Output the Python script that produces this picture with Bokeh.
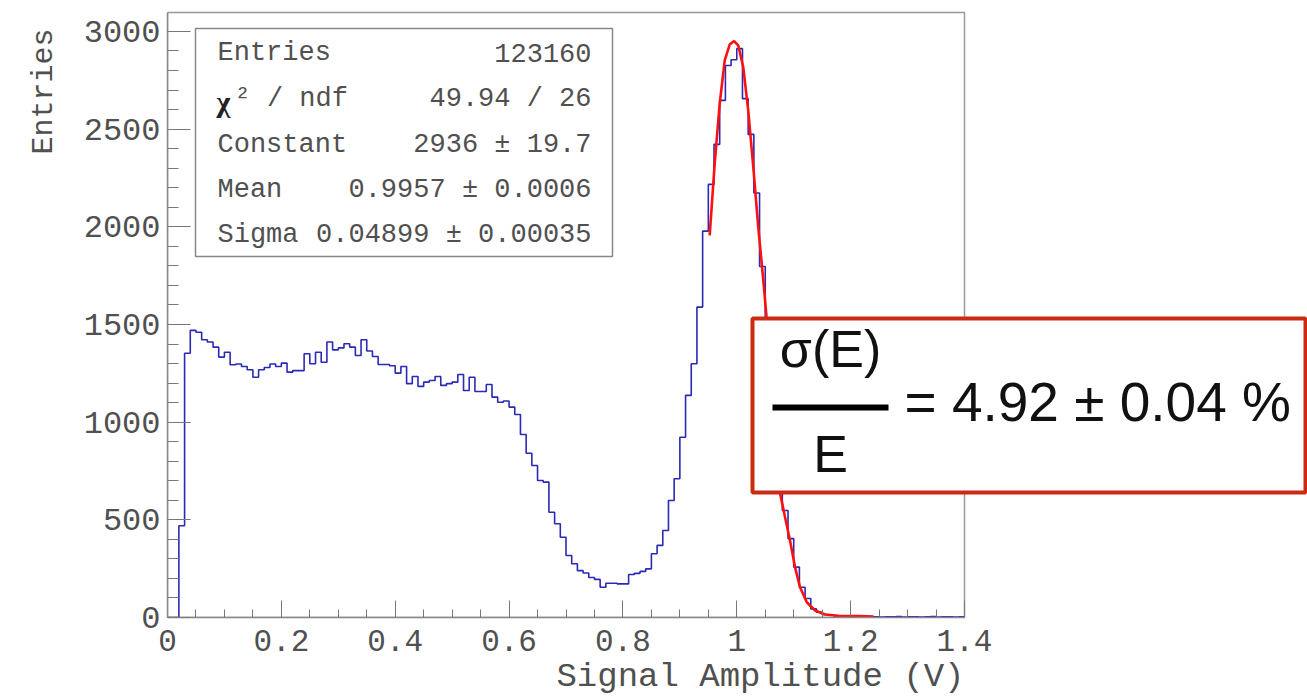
import numpy as np
from bokeh.plotting import figure
from bokeh.models import Range1d, FixedTicker, BoxAnnotation, Label, Title, PrintfTickFormatter
from bokeh.embed import file_html
from bokeh.resources import INLINE

# ---------------- data ----------------
bin_edges = [round(0.01 * i, 2) for i in range(141)]
counts = [
    0, 0, 470, 1353, 1470, 1460, 1422, 1410, 1384, 1333,
    1358, 1294, 1298, 1285, 1268, 1230, 1268, 1280, 1298, 1285,
    1302, 1256, 1264, 1264, 1350, 1299, 1358, 1307, 1410, 1370,
    1380, 1401, 1384, 1341, 1422, 1364, 1336, 1295, 1295, 1289,
    1251, 1285, 1197, 1234, 1183, 1205, 1213, 1234, 1188, 1197,
    1205, 1244, 1162, 1230, 1157, 1157, 1193, 1128, 1102, 1108,
    1077, 1039, 937, 841, 778, 701, 693, 539, 480, 411,
    317, 275, 240, 228, 205, 195, 155, 175, 175, 172,
    172, 220, 226, 236, 249, 326, 369, 445, 599, 710,
    923, 1137, 1299, 1589, 1978, 2217, 2422, 2647, 2826, 2855,
    2912, 2656, 2473, 2173, 1797, 1410, 1090, 770, 548, 404,
    258, 155, 97, 44, 27, 15, 12, 8, 6, 5,
    4, 6, 3, 5, 4, 2, 4, 3, 5, 2,
    3, 4, 2, 3, 5, 2, 3, 4, 2, 3,
]
fit_x = [0.9524, 0.9612, 0.9700, 0.9788, 0.9877, 0.9954, 1.0025, 1.0113, 1.0201,
         1.0290, 1.0377, 1.0466, 1.0524, 1.0600, 1.0680, 1.0758, 1.0847, 1.0935,
         1.1023, 1.1111, 1.1230, 1.1376, 1.1552, 1.1788, 1.2140, 1.2400]
fit_y = [1956, 2323, 2630, 2852, 2934, 2951, 2929, 2818, 2596,
         2306, 1998, 1726, 1532, 1240, 930, 640, 514, 394,
         258, 155, 78, 36, 15, 9, 7, 5]

x_ticks = [0, 0.2, 0.4, 0.6, 0.8, 1, 1.2, 1.4]
x_minor = [round(0.05 * i, 2) for i in range(29)]
y_ticks = [0, 500, 1000, 1500, 2000, 2500, 3000]
y_minor = list(range(0, 3100, 100))

stat_names = ["Entries", "\u00b2 / ndf", "Constant", "Mean", "Sigma"]
stat_values = ["123160", "49.94 / 26", "2936 \u00b1 19.7", "0.9957 \u00b1 0.0006",
               "0.04899 \u00b1 0.00035"]

# ---------------- layout constants ----------------
MONO = "Liberation Mono"
SANS = "Liberation Sans"
TXT = "#505050"
X_MIN, X_MAX = 0.0, 1.4
Y_MIN, Y_MAX = 0.0, 3097.0
FRAME_L, FRAME_R, FRAME_T, FRAME_B = 167, 964, 12, 617  # visible ROOT frame (canvas px)
W, H = 1307, 699
CANVAS_TOP = 10
px_per_x = (FRAME_R - FRAME_L) / (X_MAX - X_MIN)
px_per_y = (FRAME_B - FRAME_T) / (Y_MAX - Y_MIN)
x_end = X_MIN + (W - FRAME_L) / px_per_x          # data frame extends to canvas edge
y_end = Y_MAX + (FRAME_T - CANVAS_TOP) / px_per_y
BASE_FIX = 19  # label baseline correction (px)

def sx(cx):  # canvas x -> screen units relative to frame left
    return cx - FRAME_L

def sy(cy):  # canvas y -> screen units relative to frame bottom
    return FRAME_B - cy

p = figure(width=W, height=H, output_backend="svg", toolbar_location=None,
           x_range=Range1d(X_MIN, x_end), y_range=Range1d(Y_MIN, y_end),
           min_border_left=FRAME_L, min_border_right=0, min_border_top=CANVAS_TOP,
           min_border_bottom=H - FRAME_B)
p.xgrid.visible = False
p.ygrid.visible = False
p.outline_line_color = None
p.background_fill_color = "white"
p.border_fill_color = "white"

# ROOT frame
p.add_layout(BoxAnnotation(left=sx(FRAME_L), right=sx(FRAME_R), top=sy(FRAME_T), bottom=0,
                           left_units="screen", right_units="screen",
                           top_units="screen", bottom_units="screen",
                           fill_alpha=0.0, line_color="#999999", line_alpha=1.0,
                           line_width=1.5, level="underlay"))

# histogram
p.step(x=bin_edges, y=counts + [counts[-1]], mode="after", line_color="#2a2ab4",
       line_width=1.6)
# fit
p.line(fit_x, fit_y, line_color="#ff1010", line_width=2.6)

# axes
for ax in (p.xaxis[0], p.yaxis[0]):
    ax.axis_line_color = "#888888"
    ax.axis_line_width = 1.5
    ax.major_tick_line_color = "#777777"
    ax.minor_tick_line_color = "#777777"
    ax.major_tick_out = 0
    ax.minor_tick_out = 0
    ax.major_label_text_font = MONO
    ax.major_label_text_color = TXT

p.xaxis.bounds = (X_MIN, X_MAX)
p.xaxis.ticker = FixedTicker(ticks=x_ticks, minor_ticks=x_minor)
p.xaxis.formatter = PrintfTickFormatter(format="%g")
p.xaxis.major_tick_in = 17
p.xaxis.minor_tick_in = 8
p.xaxis.major_label_text_font_size = "31px"
p.xaxis.major_label_standoff = 12

p.yaxis.bounds = (Y_MIN, Y_MAX)
p.yaxis.ticker = FixedTicker(ticks=y_ticks, minor_ticks=y_minor)
p.yaxis.major_tick_in = 23
p.yaxis.minor_tick_in = 11
p.yaxis.major_label_text_font_size = "32px"
p.yaxis.major_label_standoff = 7

# axis titles
ytitle = Title(text="Entries", align="right", text_font=MONO, text_font_size="30px",
               text_font_style="normal", text_color=TXT, standoff=40, offset=18)
p.add_layout(ytitle, "left")
xtitle = Title(text="Signal Amplitude (V)", align="right", text_font=MONO,
               text_font_size="34px", text_font_style="normal", text_color=TXT,
               standoff=4, offset=W - FRAME_R)
p.add_layout(xtitle, "below")

# stats box
p.add_layout(BoxAnnotation(left=sx(195), right=sx(612), top=sy(28), bottom=sy(256),
                           left_units="screen", right_units="screen",
                           top_units="screen", bottom_units="screen",
                           fill_color="white", fill_alpha=1.0,
                           line_color="#888888", line_alpha=1.0, line_width=1.5))
row_cy = [52, 98.5, 144, 189, 234]
name_x = [217, 234, 217, 217, 217]
for name, val, cy, nx in zip(stat_names, stat_values, row_cy, name_x):
    p.add_layout(Label(x=sx(nx), y=sy(cy), x_units="screen", y_units="screen", text=name,
                       text_font=MONO, text_font_size="27px", text_color=TXT,
                       text_baseline="middle", text_align="left"))
    p.add_layout(Label(x=sx(591), y=sy(cy), x_units="screen", y_units="screen", text=val,
                       text_font=MONO, text_font_size="27px", text_color=TXT,
                       text_baseline="middle", text_align="right"))
p.add_layout(Label(x=sx(216), y=sy(row_cy[1] + 2), x_units="screen", y_units="screen",
                   text="\u03c7", text_font="Liberation Serif", text_font_size="30px",
                   text_font_style="bold", text_color="#222222",
                   text_baseline="middle", text_align="left"))

# resolution box
p.add_layout(BoxAnnotation(left=sx(752), right=sx(1305), top=sy(318), bottom=sy(492),
                           left_units="screen", right_units="screen",
                           top_units="screen", bottom_units="screen",
                           fill_color="white", fill_alpha=1.0,
                           line_color="#cc2b12", line_alpha=1.0, line_width=4))
p.add_layout(BoxAnnotation(left=sx(772), right=sx(888), top=sy(404), bottom=sy(410),
                           left_units="screen", right_units="screen",
                           top_units="screen", bottom_units="screen",
                           fill_color="black", fill_alpha=1.0, line_color=None))
p.add_layout(Label(x=sx(830), y=sy(367 - BASE_FIX), x_units="screen", y_units="screen",
                   text="\u03c3(E)", text_font=SANS, text_font_size="52px",
                   text_color="#111111", text_align="center", text_baseline="alphabetic"))
p.add_layout(Label(x=sx(830), y=sy(472 - BASE_FIX), x_units="screen", y_units="screen",
                   text="E", text_font=SANS, text_font_size="52px",
                   text_color="#111111", text_align="center", text_baseline="alphabetic"))
p.add_layout(Label(x=sx(904), y=sy(420 - BASE_FIX), x_units="screen", y_units="screen",
                   text="= 4.92 \u00b1 0.04 %", text_font=SANS, text_font_size="55px",
                   text_color="#111111", text_align="left", text_baseline="alphabetic"))

open("out.html", "w").write(file_html(p, INLINE))
